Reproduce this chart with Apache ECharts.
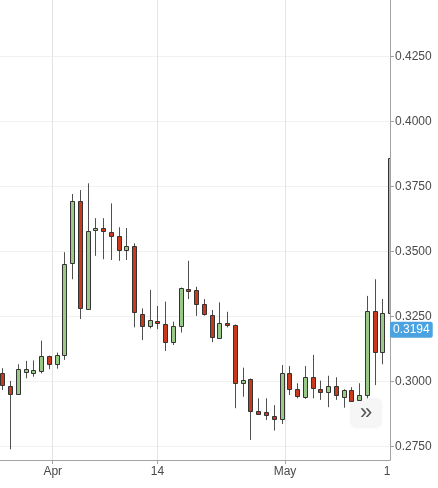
<!DOCTYPE html>
<html>
<head>
<meta charset="utf-8">
<script src="https://cdn.jsdelivr.net/npm/echarts@6/dist/echarts.min.js"></script>
<style>
  html, body { margin: 0; padding: 0; background: #fff; }
  #chart { width: 438px; height: 488px; }
</style>
</head>
<body>
<div id="chart"></div>
<script>
// daily candles, oldest first (last one is cut off at the right edge)
var opens = [0.3035, 0.2985, 0.2952, 0.3039, 0.3035, 0.3041, 0.3099, 0.3068, 0.3102, 0.3458,
  0.3696, 0.3280, 0.3584, 0.3592, 0.3575, 0.3559, 0.3505, 0.3523, 0.3262, 0.3214,
  0.3235, 0.3222, 0.3154, 0.3214, 0.3358, 0.3353, 0.3298, 0.3255, 0.3169, 0.3227,
  0.3218, 0.2994, 0.3009, 0.2886, 0.2882, 0.2868, 0.2855, 0.3032, 0.2972, 0.2942,
  0.3017, 0.2972, 0.2959, 0.2984, 0.2942, 0.2968, 0.2930, 0.2949, 0.3272, 0.3113,
  0.3263]
var closes = [0.2987, 0.2953, 0.3048, 0.3048, 0.3045, 0.3099, 0.3068, 0.3102, 0.3453, 0.3696,
  0.3282, 0.3581, 0.3592, 0.3581, 0.3560, 0.3507, 0.3523, 0.3267, 0.3214, 0.3236,
  0.3225, 0.3154, 0.3214, 0.3359, 0.3350, 0.3299, 0.3259, 0.3173, 0.3227, 0.3218,
  0.2994, 0.3008, 0.2889, 0.2877, 0.2871, 0.2855, 0.3032, 0.2971, 0.2945, 0.3017,
  0.2975, 0.2959, 0.2984, 0.2949, 0.2968, 0.2926, 0.2949, 0.3272, 0.3113, 0.3263,
  0.3860]
var lows = [0.2968, 0.2740, 0.2950, 0.3013, 0.3019, 0.3032, 0.3048, 0.3050, 0.3084, 0.3394,
  0.3241, 0.3276, 0.3484, 0.3471, 0.3468, 0.3465, 0.3468, 0.3209, 0.3160, 0.3205,
  0.3202, 0.3118, 0.3141, 0.3189, 0.3318, 0.3253, 0.3254, 0.3152, 0.3168, 0.3209,
  0.2898, 0.2942, 0.2776, 0.2872, 0.2853, 0.2812, 0.2837, 0.2949, 0.2936, 0.2934,
  0.2936, 0.2930, 0.2902, 0.2930, 0.2900, 0.2924, 0.2928, 0.2936, 0.2987, 0.3067,
  0.3263]
var highs = [0.3052, 0.3003, 0.3067, 0.3080, 0.3082, 0.3158, 0.3100, 0.3112, 0.3498, 0.3722,
  0.3737, 0.3763, 0.3629, 0.3629, 0.3686, 0.3594, 0.3591, 0.3532, 0.3282, 0.3353,
  0.3291, 0.3308, 0.3231, 0.3362, 0.3465, 0.3365, 0.3318, 0.3276, 0.3305, 0.3269,
  0.3220, 0.3054, 0.3012, 0.2936, 0.2936, 0.2910, 0.3064, 0.3060, 0.2994, 0.3060,
  0.3103, 0.3004, 0.3023, 0.3017, 0.2971, 0.2979, 0.2994, 0.3330, 0.3394, 0.3318,
  0.3860]

// date labels and where they sit, in candle index units
var dateLabels = ['Apr', '14', 'May', '1']
var dateAt = [6.5, 20, 36.45, 49.6]

var priceTicks = [0.275, 0.300, 0.325, 0.350, 0.375, 0.400, 0.425]
var lastPrice = 0.3194

var candles = opens.map(function (o, i) {
  return [i, o, closes[i], lows[i], highs[i]]
})

var font = '"Liberation Sans", Arial, sans-serif'
var chart = echarts.init(document.getElementById('chart'))

// candle drawn by hand so the grid can clip the last one
function renderCandle(params, api) {
  var x = api.value(0)
  var o = api.value(1), c = api.value(2)
  var pO = api.coord([x, o])
  var pC = api.coord([x, c])
  var pL = api.coord([x, api.value(3)])
  var pH = api.coord([x, api.value(4)])
  var cx = Math.round(pO[0])
  var top = Math.round(Math.min(pO[1], pC[1]))
  var bot = Math.round(Math.max(pO[1], pC[1]))
  var up = c >= o
  return {
    type: 'group',
    children: [{
      type: 'line',
      shape: { x1: cx + 0.5, y1: pH[1], x2: cx + 0.5, y2: top },
      style: { stroke: '#505050', lineWidth: 1 }
    }, {
      type: 'line',
      shape: { x1: cx + 0.5, y1: bot, x2: cx + 0.5, y2: pL[1] },
      style: { stroke: '#505050', lineWidth: 1 }
    }, {
      type: 'rect',
      shape: { x: cx - 1.5, y: top + 0.5, width: 4, height: Math.max(bot - top, 2) },
      style: {
        fill: up ? '#98c987' : '#c9391c',
        stroke: '#333',
        lineWidth: 1
      }
    }]
  }
}

chart.setOption({
  animation: false,
  grid: {
    left: 0,
    right: 48,
    top: 0,
    bottom: 28
  },
  xAxis: {
    type: 'value',
    min: -0.297,
    max: 49.99,
    axisLine: { onZero: false, lineStyle: { color: '#a3a3a3' } },
    axisTick: {
      length: 4,
      customValues: dateAt.slice(0, 3),
      lineStyle: { color: '#a3a3a3' }
    },
    axisLabel: {
      customValues: dateAt,
      margin: 6,
      color: '#4a4a4a',
      fontSize: 12,
      fontFamily: font,
      formatter: function (v) {
        var k = dateAt.indexOf(v)
        return k >= 0 ? dateLabels[k] : ''
      }
    },
    splitLine: { show: true, lineStyle: { color: '#e4e4e4' } }
  },
  yAxis: {
    type: 'value',
    position: 'right',
    min: 0.269885,
    max: 0.446805,
    axisLine: { show: true, onZero: false, lineStyle: { color: '#a3a3a3' } },
    axisTick: {
      show: true,
      length: 4,
      customValues: priceTicks,
      lineStyle: { color: '#a3a3a3' }
    },
    axisLabel: {
      customValues: priceTicks,
      margin: 5,
      color: '#4a4a4a',
      fontSize: 12,
      fontFamily: font,
      formatter: function (v) { return v.toFixed(4) }
    },
    splitLine: { show: true, lineStyle: { color: '#f1f1f1' } }
  },
  series: [{
    type: 'custom',
    data: candles,
    encode: { x: 0, y: [1, 2, 3, 4] },
    renderItem: renderCandle,
    clip: true,
    markLine: {
      silent: true,
      symbol: 'none',
      lineStyle: { width: 0, color: 'rgba(0,0,0,0)' },
      label: {
        position: 'end',
        distance: 0,
        formatter: lastPrice.toFixed(4),
        color: '#fff',
        fontSize: 12,
        fontFamily: font,
        backgroundColor: '#4aa3e0',
        borderRadius: 2,
        padding: [2, 3, 2, 3]
      },
      data: [{ yAxis: lastPrice }]
    }
  }],
  graphic: [{
    type: 'group',
    left: 352,
    top: 400,
    children: [{
      type: 'rect',
      shape: { x: 0, y: 0, width: 28, height: 26, r: 3 },
      style: {
        fill: '#f6f6f6',
        shadowBlur: 4,
        shadowColor: 'rgba(0,0,0,0.12)'
      }
    }, {
      type: 'text',
      x: 14,
      y: 13,
      style: {
        text: '»',
        fill: '#555',
        fontSize: 22,
        fontFamily: font,
        align: 'center',
        verticalAlign: 'middle'
      }
    }]
  }]
})
</script>
</body>
</html>
